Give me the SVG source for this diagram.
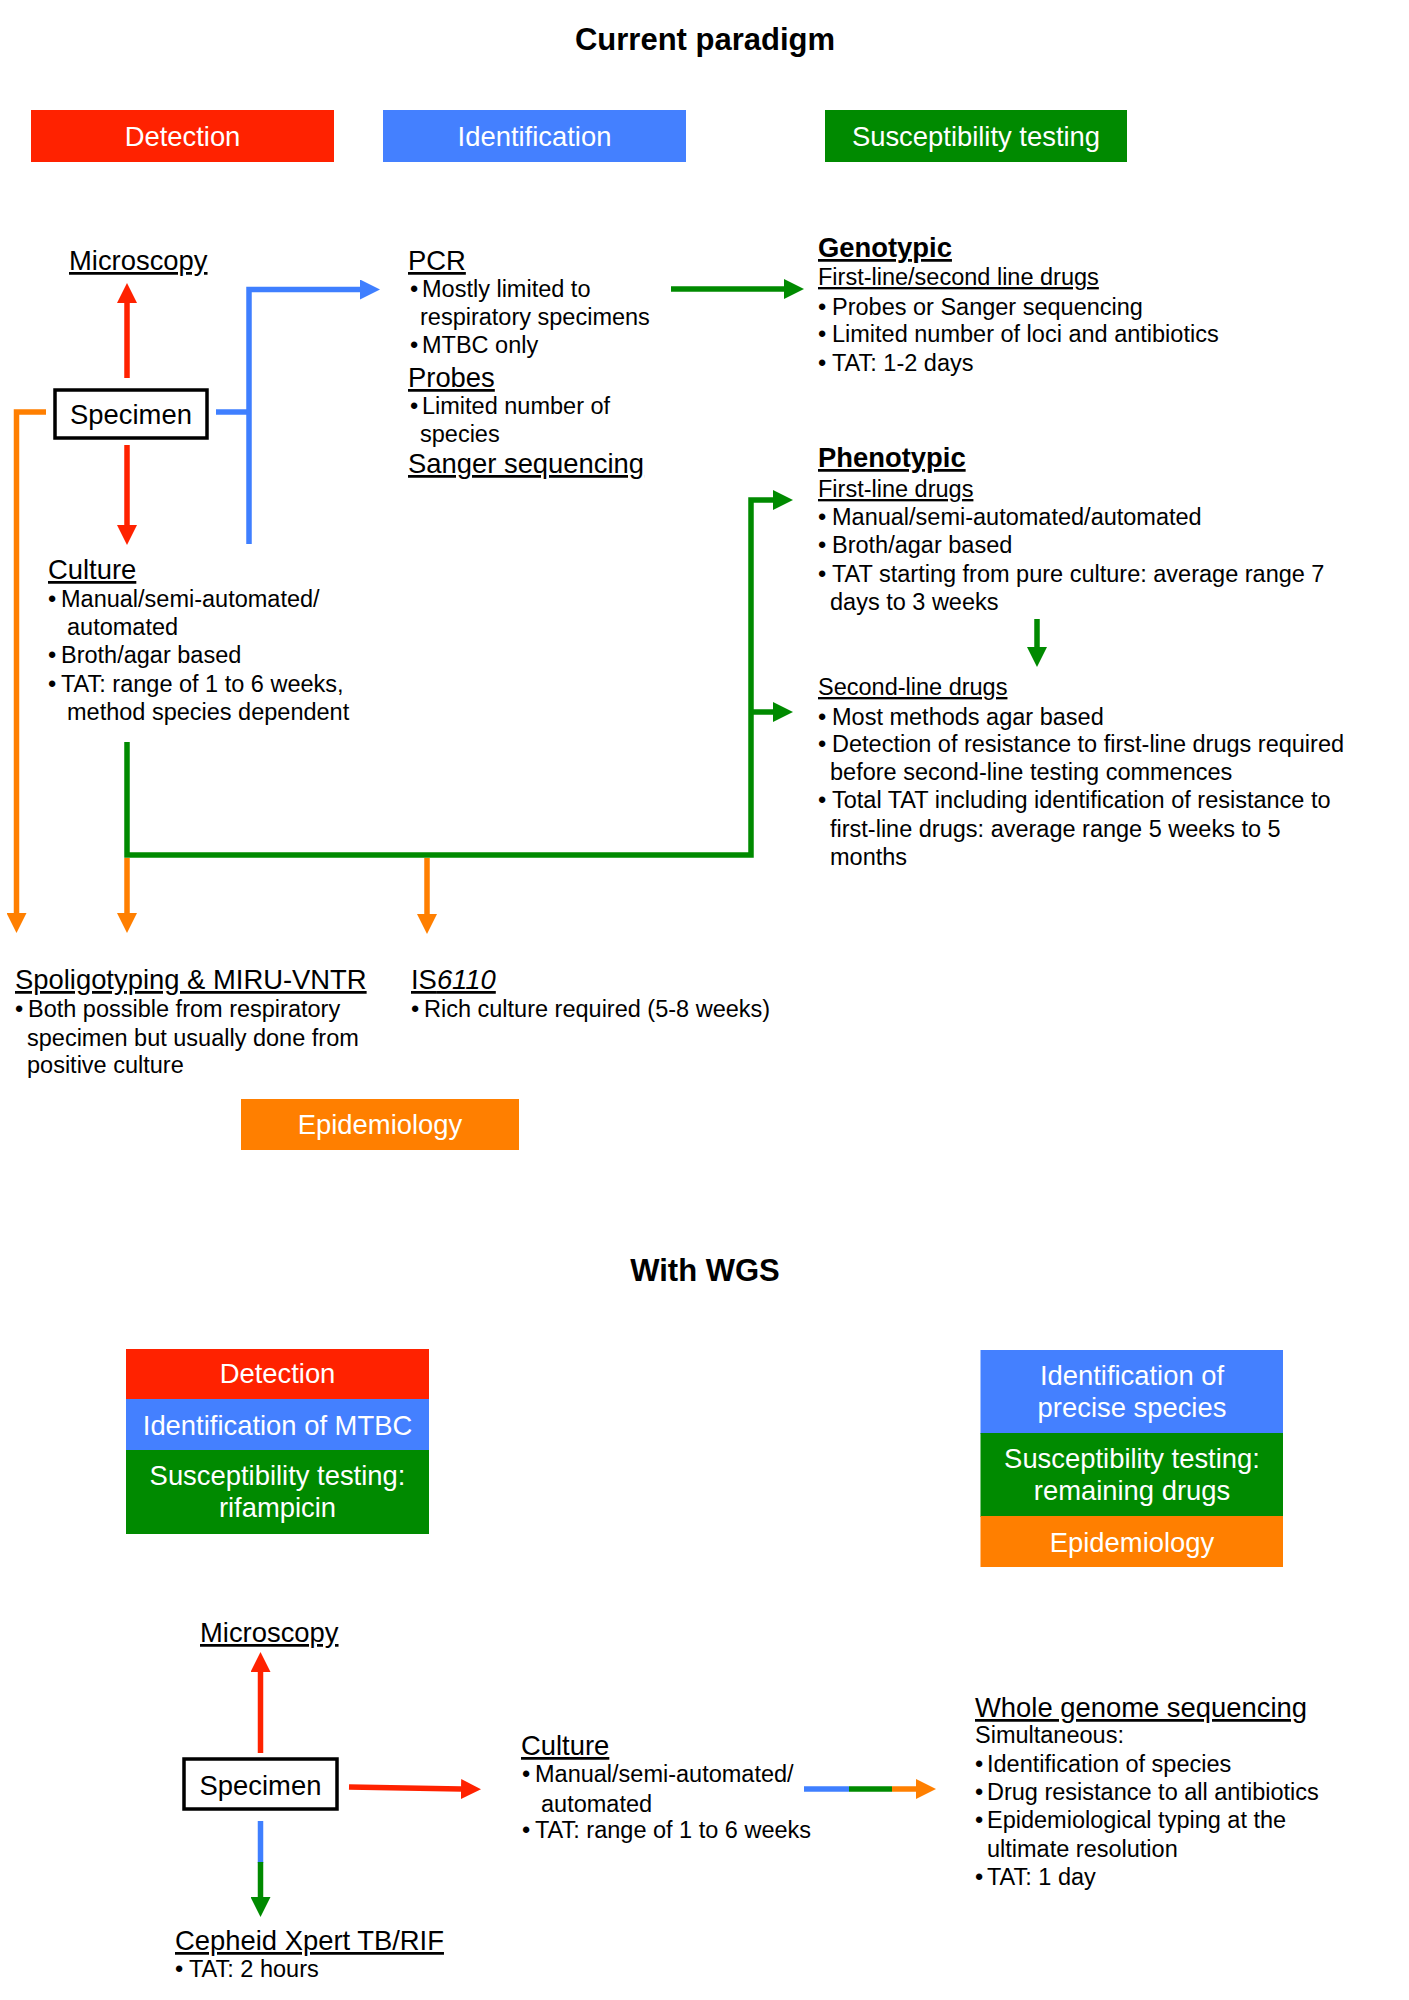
<svg xmlns="http://www.w3.org/2000/svg" width="1409" height="2000" viewBox="0 0 1409 2000">
<style>
text{font-family:"Liberation Sans",Arial,sans-serif;fill:#000}
.title{font-size:31px;font-weight:bold;text-anchor:middle}
.h{font-size:27.4px;text-decoration:underline}
.hb{font-size:27.4px;font-weight:bold;text-decoration:underline}
.sh{font-size:23.5px;text-decoration:underline}
.t{font-size:23.5px}
.bx{font-size:27.4px;fill:#fff;text-anchor:middle}
.spec{font-size:27.4px;text-anchor:middle}
.ln{fill:none;stroke-width:5.5;stroke-linejoin:miter}
.r{stroke:#ff2200}.b{stroke:#3f7fff}.g{stroke:#008a00}.o{stroke:#ff7f00}
</style>
<defs>
<marker id="ar" markerUnits="userSpaceOnUse" markerWidth="20" markerHeight="20" viewBox="0 0 20 20" refX="0" refY="10" orient="auto"><path d="M0,0 L20,10 L0,20 Z" fill="#ff2200"/></marker>
<marker id="ab" markerUnits="userSpaceOnUse" markerWidth="20" markerHeight="20" viewBox="0 0 20 20" refX="0" refY="10" orient="auto"><path d="M0,0 L20,10 L0,20 Z" fill="#3f7fff"/></marker>
<marker id="ag" markerUnits="userSpaceOnUse" markerWidth="20" markerHeight="20" viewBox="0 0 20 20" refX="0" refY="10" orient="auto"><path d="M0,0 L20,10 L0,20 Z" fill="#008a00"/></marker>
<marker id="ao" markerUnits="userSpaceOnUse" markerWidth="20" markerHeight="20" viewBox="0 0 20 20" refX="0" refY="10" orient="auto"><path d="M0,0 L20,10 L0,20 Z" fill="#ff7f00"/></marker>
</defs>
<rect width="1409" height="2000" fill="#fff"/>

<text class="title" x="705" y="50">Current paradigm</text>
<text class="title" x="705" y="1281">With WGS</text>

<g id="legend-detection"><rect x="31" y="110" width="303" height="52" fill="#ff2200"/><text class="bx" x="182.5" y="146">Detection</text></g>
<g id="legend-identification"><rect x="383" y="110" width="303" height="52" fill="#4480ff"/><text class="bx" x="534.5" y="146">Identification</text></g>
<g id="legend-susceptibility"><rect x="825" y="110" width="302" height="52" fill="#008a00"/><text class="bx" x="976" y="146">Susceptibility testing</text></g>

<g id="connectors">
<path class="ln r" d="M127,378 V303" marker-end="url(#ar)"/>
<path class="ln r" d="M127,445 V525" marker-end="url(#ar)"/>
<path class="ln b" d="M216,412 H249"/>
<path class="ln b" d="M249,544 V289.5 H360" marker-end="url(#ab)"/>
<path class="ln o" d="M46,412 H16.5 V913" marker-end="url(#ao)"/>
<path class="ln g" d="M671,289 H784" marker-end="url(#ag)"/>
<path class="ln g" d="M127,742 V855 H751 V500 H773" marker-end="url(#ag)"/>
<path class="ln g" d="M751,712 H773" marker-end="url(#ag)"/>
<path class="ln o" d="M127,858 V913" marker-end="url(#ao)"/>
<path class="ln o" d="M427,858 V914" marker-end="url(#ao)"/>
<path class="ln g" d="M1037,619 V647" marker-end="url(#ag)"/>
<path class="ln r" d="M260.5,1753 V1672" marker-end="url(#ar)"/>
<path class="ln r" d="M349,1787 L461,1789" marker-end="url(#ar)"/>
<path class="ln b" d="M260.5,1821 V1863"/>
<path class="ln g" d="M260.5,1862 V1897" marker-end="url(#ag)"/>
<path class="ln b" d="M804,1789 H849"/>
<path class="ln g" d="M849,1789 H892"/>
<path class="ln o" d="M892,1789 H916" marker-end="url(#ao)"/>
</g>

<g id="microscopy"><text class="h" x="69" y="270">Microscopy</text></g>
<g id="specimen"><rect x="55" y="390" width="152" height="48" fill="#fff" stroke="#000" stroke-width="3.5"/><text class="spec" x="131" y="424">Specimen</text></g>
<g id="culture">
<text class="h" x="48" y="579">Culture</text>
<text class="t"><tspan x="48" y="607">•</tspan><tspan x="61" y="607">Manual/semi-automated/</tspan><tspan x="67" y="635">automated</tspan><tspan x="48" y="663">•</tspan><tspan x="61" y="663">Broth/agar based</tspan><tspan x="48" y="692">•</tspan><tspan x="61" y="692">TAT: range of 1 to 6 weeks,</tspan><tspan x="67" y="720">method species dependent</tspan></text>
</g>
<g id="identification">
<text class="h" x="408" y="270">PCR</text>
<text class="t"><tspan x="410" y="297">•</tspan><tspan x="422" y="297">Mostly limited to</tspan><tspan x="420" y="325">respiratory specimens</tspan><tspan x="410" y="353">•</tspan><tspan x="422" y="353">MTBC only</tspan></text>
<text class="h" x="408" y="387">Probes</text>
<text class="t"><tspan x="410" y="414">•</tspan><tspan x="422" y="414">Limited number of</tspan><tspan x="420" y="442">species</tspan></text>
<text class="h" x="408" y="473">Sanger sequencing</text>
</g>
<g id="genotypic">
<text class="hb" x="818" y="257">Genotypic</text>
<text class="sh" x="818" y="285">First-line/second line drugs</text>
<text class="t"><tspan x="818" y="315">•</tspan><tspan x="832" y="315">Probes or Sanger sequencing</tspan><tspan x="818" y="342">•</tspan><tspan x="832" y="342">Limited number of loci and antibiotics</tspan><tspan x="818" y="371">•</tspan><tspan x="832" y="371">TAT: 1-2 days</tspan></text>
</g>
<g id="phenotypic">
<text class="hb" x="818" y="467">Phenotypic</text>
<text class="sh" x="818" y="497">First-line drugs</text>
<text class="t"><tspan x="818" y="525">•</tspan><tspan x="832" y="525">Manual/semi-automated/automated</tspan><tspan x="818" y="553">•</tspan><tspan x="832" y="553">Broth/agar based</tspan><tspan x="818" y="582">•</tspan><tspan x="832" y="582">TAT starting from pure culture: average range 7</tspan><tspan x="830" y="610">days to 3 weeks</tspan></text>
</g>
<g id="second-line">
<text class="sh" x="818" y="695">Second-line drugs</text>
<text class="t"><tspan x="818" y="725">•</tspan><tspan x="832" y="725">Most methods agar based</tspan><tspan x="818" y="752">•</tspan><tspan x="832" y="752">Detection of resistance to first-line drugs required</tspan><tspan x="830" y="780">before second-line testing commences</tspan><tspan x="818" y="808">•</tspan><tspan x="832" y="808">Total TAT including identification of resistance to</tspan><tspan x="830" y="837">first-line drugs: average range 5 weeks to 5</tspan><tspan x="830" y="865">months</tspan></text>
</g>
<g id="spoligotyping">
<text class="h" x="15" y="989">Spoligotyping &amp; MIRU-VNTR</text>
<text class="t"><tspan x="15" y="1017">•</tspan><tspan x="28" y="1017">Both possible from respiratory</tspan><tspan x="27" y="1046">specimen but usually done from</tspan><tspan x="27" y="1073">positive culture</tspan></text>
</g>
<g id="is6110">
<text class="h" x="411" y="989">IS<tspan font-style="italic">6110</tspan></text>
<text class="t"><tspan x="411" y="1017">•</tspan><tspan x="424" y="1017">Rich culture required (5-8 weeks)</tspan></text>
</g>
<g id="legend-epidemiology"><rect x="241" y="1099" width="278" height="51" fill="#ff7f00"/><text class="bx" x="380" y="1134">Epidemiology</text></g>

<g id="stack-left">
<rect x="126" y="1349" width="303" height="51" fill="#ff2200"/>
<rect x="126" y="1399" width="303" height="52" fill="#4480ff"/>
<rect x="126" y="1450" width="303" height="84" fill="#008a00"/>
<text class="bx" x="277.5" y="1383">Detection</text>
<text class="bx" x="277.5" y="1435">Identification of MTBC</text>
<text class="bx" x="277.5" y="1485">Susceptibility testing:</text>
<text class="bx" x="277.5" y="1517">rifampicin</text>
</g>
<g id="stack-right">
<rect x="980.5" y="1350" width="302.5" height="84" fill="#4480ff"/>
<rect x="980.5" y="1433" width="302.5" height="84" fill="#008a00"/>
<rect x="980.5" y="1516" width="302.5" height="51" fill="#ff7f00"/>
<text class="bx" x="1132" y="1385">Identification of</text>
<text class="bx" x="1132" y="1417">precise species</text>
<text class="bx" x="1132" y="1468">Susceptibility testing:</text>
<text class="bx" x="1132" y="1500">remaining drugs</text>
<text class="bx" x="1132" y="1552">Epidemiology</text>
</g>

<g id="microscopy-wgs"><text class="h" x="200" y="1642">Microscopy</text></g>
<g id="specimen-wgs"><rect x="184" y="1759" width="153" height="50" fill="#fff" stroke="#000" stroke-width="3.5"/><text class="spec" x="260.5" y="1795">Specimen</text></g>
<g id="cepheid">
<text class="h" x="175" y="1950">Cepheid Xpert TB/RIF</text>
<text class="t"><tspan x="175" y="1977">•</tspan><tspan x="189" y="1977">TAT: 2 hours</tspan></text>
</g>
<g id="culture-wgs">
<text class="h" x="521" y="1755">Culture</text>
<text class="t"><tspan x="522" y="1782">•</tspan><tspan x="535" y="1782">Manual/semi-automated/</tspan><tspan x="541" y="1812">automated</tspan><tspan x="522" y="1838">•</tspan><tspan x="535" y="1838">TAT: range of 1 to 6 weeks</tspan></text>
</g>
<g id="wgs">
<text class="h" x="975" y="1717">Whole genome sequencing</text>
<text class="t"><tspan x="975" y="1743">Simultaneous:</tspan><tspan x="975" y="1772">•</tspan><tspan x="987" y="1772">Identification of species</tspan><tspan x="975" y="1800">•</tspan><tspan x="987" y="1800">Drug resistance to all antibiotics</tspan><tspan x="975" y="1828">•</tspan><tspan x="987" y="1828">Epidemiological typing at the</tspan><tspan x="987" y="1857">ultimate resolution</tspan><tspan x="975" y="1885">•</tspan><tspan x="987" y="1885">TAT: 1 day</tspan></text>
</g>
</svg>
